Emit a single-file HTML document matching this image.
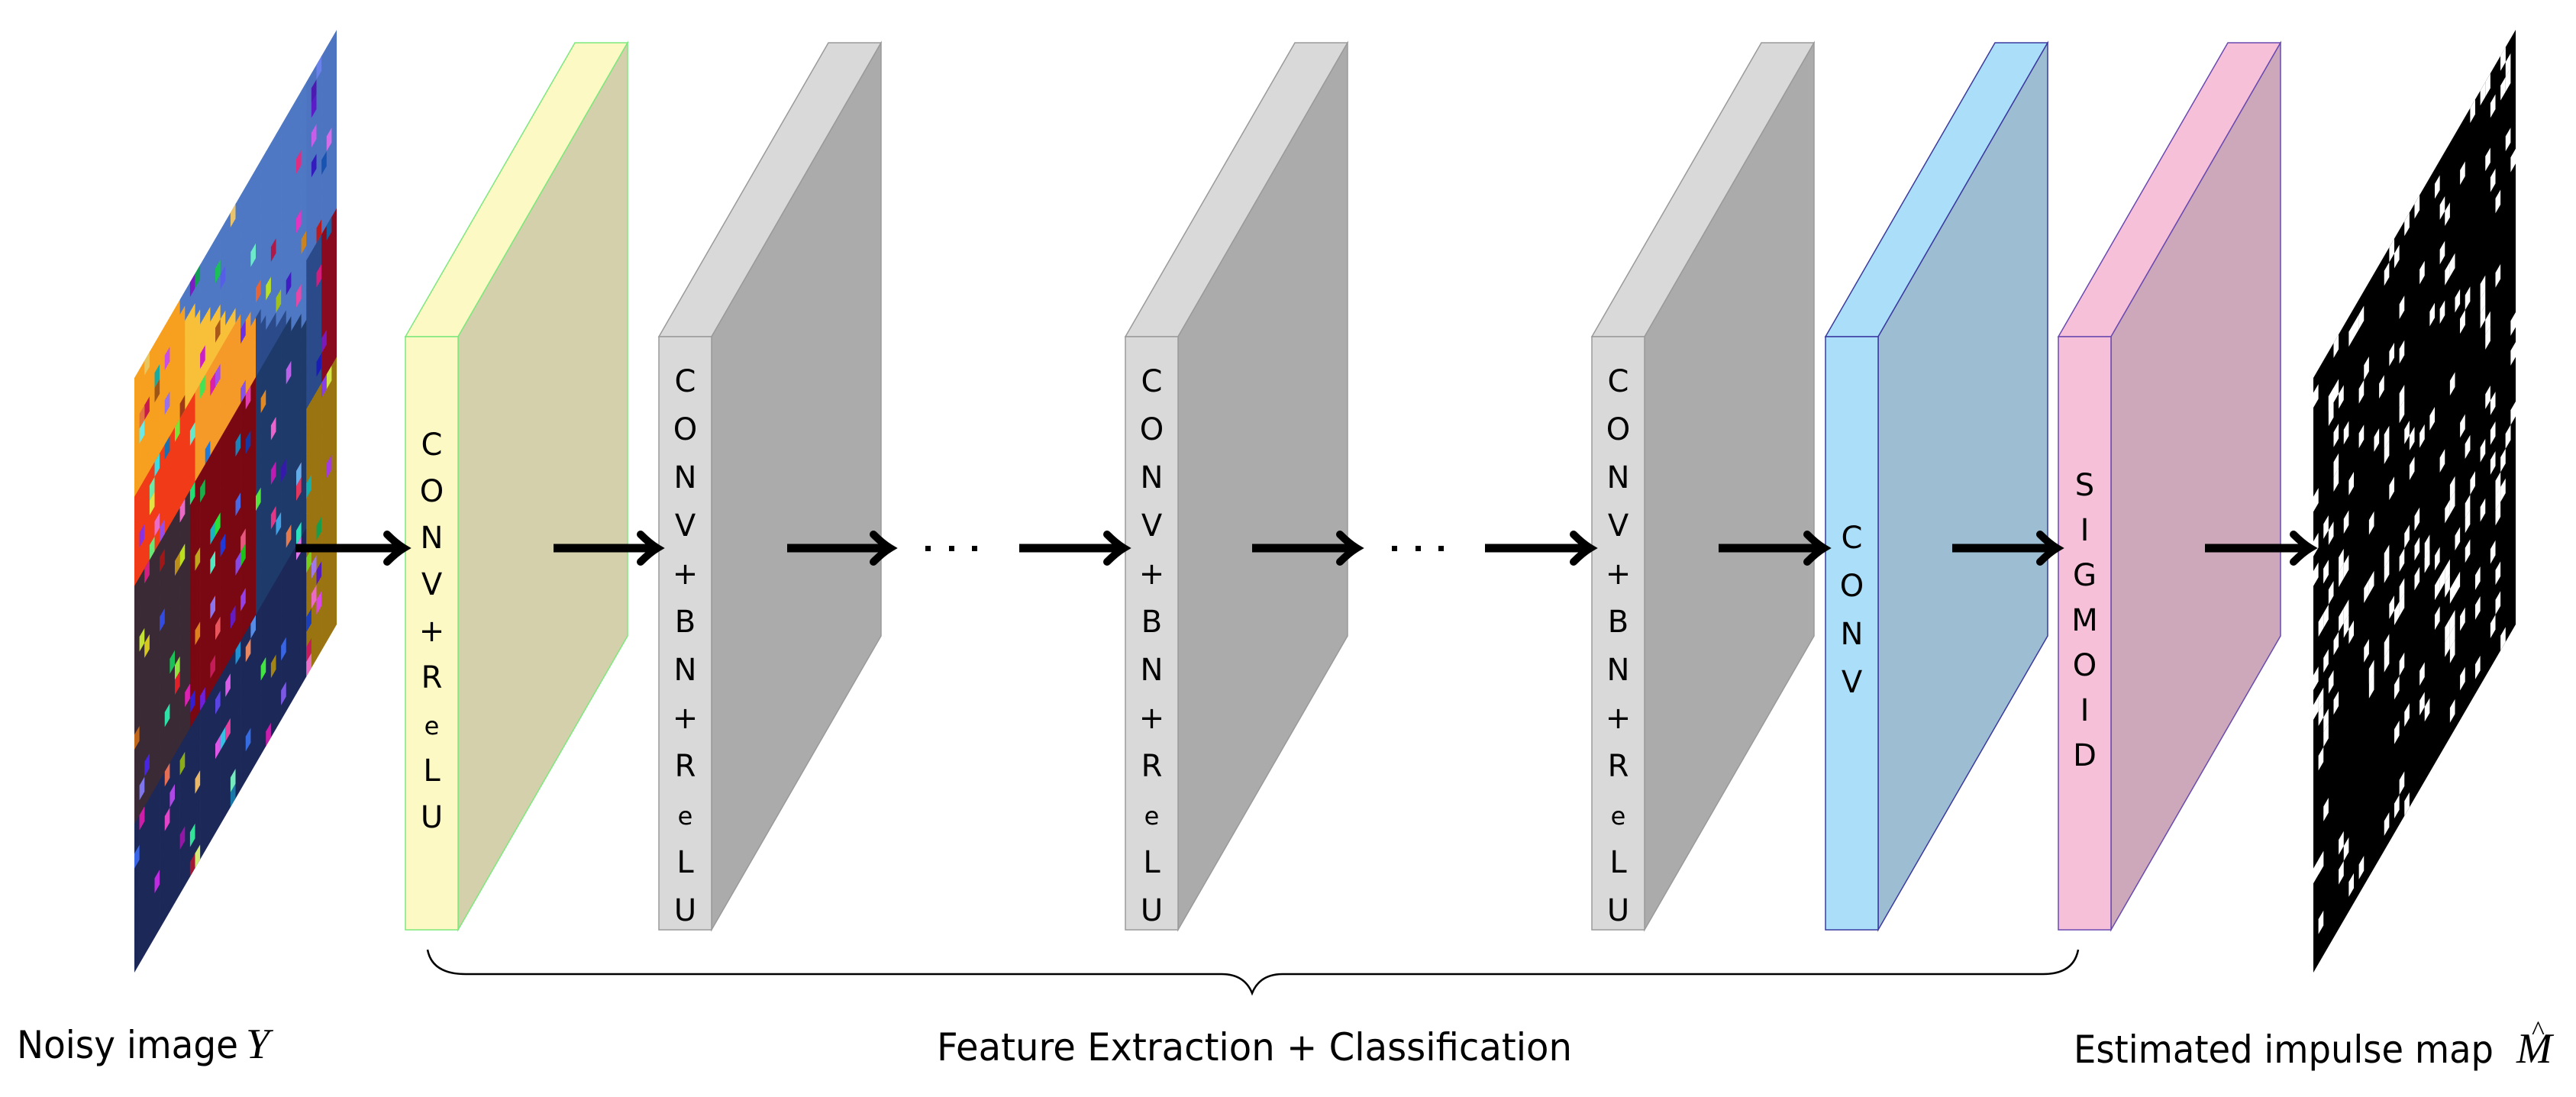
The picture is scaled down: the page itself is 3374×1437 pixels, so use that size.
<!DOCTYPE html>
<html><head><meta charset="utf-8"><style>
html,body{margin:0;padding:0;background:#fff;}
svg{display:block;}
.t{font-family:"DejaVu Sans","Liberation Sans",sans-serif;fill:#000;}
</style></head><body>
<svg id="s" width="3374" height="1437" viewBox="0 0 3374 1437" xmlns="http://www.w3.org/2000/svg">
<defs>
<clipPath id="c1"><polygon points="176,495 441,39 441,818 176,1274"/></clipPath>
<clipPath id="c2"><polygon points="3030,495 3295,39 3295,818 3030,1274"/></clipPath>
</defs>
<g clip-path="url(#c1)"><g id="img" transform="matrix(6.625,-11.4,0,19.475,176,495)"></g></g>
<g clip-path="url(#c2)"><rect x="3000" y="0" width="320" height="1300" fill="#000"/><g id="map" transform="matrix(6.625,-11.4,0,19.475,3030,495)"></g></g>
<g id="blocks"></g>
<g id="arrows" stroke="#000" fill="none" stroke-linecap="butt"></g>
<g fill="#000">
<rect x="1212" y="715" width="7" height="7"/><rect x="1243" y="715" width="7" height="7"/><rect x="1273" y="715" width="7" height="7"/>
<rect x="1823" y="715" width="7" height="7"/><rect x="1854" y="715" width="7" height="7"/><rect x="1884" y="715" width="7" height="7"/>
</g>
<path d="M560,1244 Q566,1276 610,1276 L1600,1276 Q1630,1276 1640,1301 Q1650,1276 1680,1276 L2676,1276 Q2716,1276 2722,1244" stroke="#000" stroke-width="2.5" fill="none"/>
<text class="t" x="22" y="1386" font-size="50" textLength="290" lengthAdjust="spacingAndGlyphs">Noisy image</text>
<text x="322" y="1386" font-family="Liberation Serif,serif" font-style="italic" font-size="56">Y</text>
<text class="t" x="1227" y="1389" font-size="50" textLength="832" lengthAdjust="spacingAndGlyphs">Feature Extraction + Classification</text>
<text class="t" x="2716" y="1392" font-size="50" textLength="550" lengthAdjust="spacingAndGlyphs">Estimated impulse map</text>
<text x="3296" y="1392" font-family="Liberation Serif,serif" font-style="italic" font-size="56">M</text>
<text x="3316" y="1362" font-family="Liberation Serif,serif" font-size="36">^</text>
</svg>
<script>
var NS="http://www.w3.org/2000/svg";
function el(p,n,a,txt){var e=document.createElementNS(NS,n);for(var k in a)e.setAttribute(k,a[k]);if(txt!==undefined)e.textContent=txt;p.appendChild(e);return e;}
var seed=7;function rnd(){seed=(seed*16807)%2147483647;return seed/2147483647;}
var img=document.getElementById('img');
function col(u,v){
 if(u>0.85){ if(v<0.3)return '#4d74c0'; if(v<0.55)return (u>0.93?'#8a0a20':'#2a4a8a'); return '#9a7410';}
 if(v<0.62*u-0.12)return '#4e78c4';
 if(v<0.2)return (u<0.25?'#f7a020':'#f8c038');
 if(v<0.36)return (u<0.3?'#f03a18':(u<0.6?'#f59a28':'#2a4a8a'));
 if(v<0.76)return (u<0.28?'#3a2a35':(u<0.6?'#7a0812':'#1e3a6a'));
 return '#1c2858';
}
for(var i=0;i<40;i++)for(var j=0;j<40;j++){el(img,'rect',{x:i,y:j,width:1.05,height:1.05,fill:col((i+.5)/40,(j+.5)/40)});}
for(var n=0;n<150;n++){var h=Math.floor(rnd()*360);el(img,'rect',{x:Math.floor(rnd()*40),y:Math.floor(rnd()*40),width:1,height:1,fill:'hsl('+h+',75%,'+(35+rnd()*35)+'%)'});}
var map=document.getElementById('map');
for(var n=0;n<200;n++){el(map,'rect',{x:Math.floor(rnd()*40),y:Math.floor(rnd()*40),width:1,height:1,fill:'#fff'});}
var B=document.getElementById('blocks');
var DX=222,DY=-385,TOP=441,BOT=1218,W=69;
var blocks=[
 [531,'#fdf9c4','#d4d0ab','#7de87d',['C','O','N','V','+','R','e','L','U'],596,61],
 [863,'#d9d9d9','#ababab','#9a9a9a',['C','O','N','V','+','B','N','+','R','e','L','U'],513,63],
 [1474,'#d9d9d9','#ababab','#9a9a9a',['C','O','N','V','+','B','N','+','R','e','L','U'],513,63],
 [2085,'#d9d9d9','#ababab','#9a9a9a',['C','O','N','V','+','B','N','+','R','e','L','U'],513,63],
 [2391,'#abdff9','#9dbed2','#3a3aa0',['C','O','N','V'],718,63],
 [2696,'#f6c0d9','#cca8ba','#6a4ab0',['S','I','G','M','O','I','D'],649,59]
];
blocks.forEach(function(b){
 var x=b[0];
 el(B,'polygon',{points:[x,TOP,x+W,TOP,x+W+DX,TOP+DY,x+DX,TOP+DY].join(' '),fill:b[1],stroke:b[3],'stroke-width':1.5});
 el(B,'polygon',{points:[x+W,TOP,x+W+DX,TOP+DY,x+W+DX,BOT+DY,x+W,BOT].join(' '),fill:b[2],stroke:b[3],'stroke-width':1.5});
 el(B,'rect',{x:x,y:TOP,width:W,height:BOT-TOP,fill:b[1],stroke:b[3],'stroke-width':1.5});
 b[4].forEach(function(c,k){
  el(B,'text',{x:x+W/2,y:b[5]+k*b[6],'text-anchor':'middle','class':'t','font-size':(c=='e'?32:40)},c);
 });
});
var A=document.getElementById('arrows');
[[387,529],[725,861],[1031,1166],[1335,1472],[1640,1777],[1945,2083],[2251,2389],[2557,2694],[2888,3026]].forEach(function(a){
 el(A,'line',{x1:a[0],y1:718,x2:a[1]-6,y2:718,'stroke-width':11});
 el(A,'path',{d:'M'+(a[1]-22)+',700 Q'+(a[1]-10)+',712 '+a[1]+',718 Q'+(a[1]-10)+',724 '+(a[1]-22)+',736','stroke-width':10,'stroke-linecap':'round'});
});
</script>
</body></html>
